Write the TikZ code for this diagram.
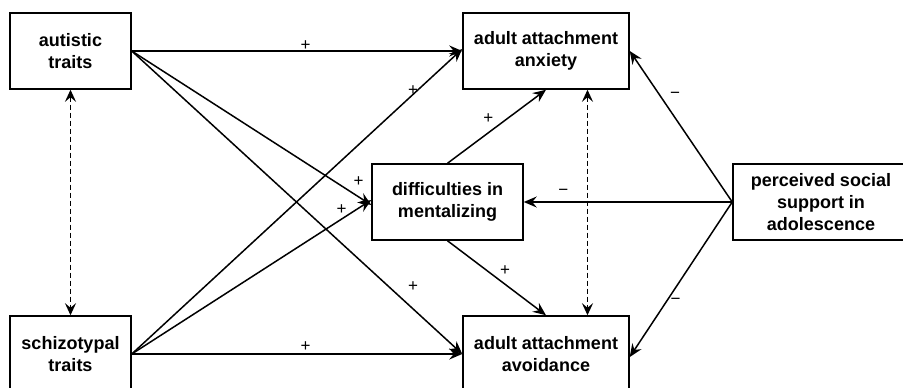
\documentclass[tikz,border=0pt]{standalone}
\usepackage{fontspec}
\setmainfont{Liberation Sans}
\usetikzlibrary{arrows.meta}
\begin{document}
\begin{tikzpicture}[x=1pt,y=-1pt,
  box/.style={draw,line width=1.5pt,inner sep=0pt,align=center,minimum height=76pt,
    font=\fontsize{18}{22}\selectfont\bfseries},
  conn/.style={line width=1.5pt,-{Stealth[length=13pt,width=11pt,inset=4.5pt]}},
  bidash/.style={line width=1.6pt,dash pattern=on 5pt off 3pt,{Stealth[length=12pt,width=11pt,inset=4.5pt,sep=0pt]}-{Stealth[length=12pt,width=11pt,inset=4.5pt]}},
  lab/.style={inner sep=0pt,font=\fontsize{17}{19}\selectfont}]
\useasboundingbox (0,0) rectangle (903,388);
\node[box,minimum width=121pt] (aut) at (70.5,51) {autistic\\traits};
\node[box,minimum width=121pt] (sch) at (70.5,354) {schizotypal\\traits};
\node[box,minimum width=166pt] (anx) at (546,51) {adult attachment\\anxiety};
\node[box,minimum width=166pt] (avo) at (546,354) {adult attachment\\avoidance};
\node[box,minimum width=151pt] (men) at (447.5,202) {difficulties in\\mentalizing};
\node[box,minimum width=176pt] (per) at (821,202) {perceived social\\support in\\adolescence};
\coordinate (menA) at ([yshift=-3pt]men.west);
\coordinate (menB) at ([yshift=2pt]men.west);
\coordinate (anxL) at ([yshift=2pt]anx.west);
\coordinate (avoR) at ([yshift=-3pt]avo.east);
\draw[conn] (aut.east) -- (anx.west);
\draw[conn] (aut.east) -- (menA);
\draw[conn] (aut.east) -- (avo.west);
\draw[conn] (sch.east) -- (anxL);
\draw[conn] (sch.east) -- (menB);
\draw[conn] (sch.east) -- (avo.west);
\draw[conn] (men.north) -- (anx.south);
\draw[conn] (men.south) -- (avo.north);
\draw[conn] (per.west) -- (men.east);
\draw[conn] (per.west) -- (anx.east);
\draw[conn] (per.west) -- (avoR);
\draw[bidash] (aut.south) -- (sch.north);
\draw[bidash] ([xshift=41.5pt]anx.south) -- ([xshift=41.5pt]avo.north);
\node[lab] (l1) at (305.7,45.5) {+};
\node[lab] (l2) at (413,90.5) {+};
\node[lab] (l3) at (358.7,181.5) {+};
\node[lab] (l4) at (341.7,210) {+};
\node[lab] (l5) at (413,287) {+};
\node[lab] (l6) at (305.7,346.5) {+};
\node[lab] (l7) at (488.3,119) {+};
\node[lab] (l8) at (505,271) {+};
\node[lab] (l9) at (563.3,192.5) {−};
\node[lab] (l10) at (675,95) {−};
\node[lab] (l11) at (675.7,301.5) {−};
\end{tikzpicture}
\end{document}
